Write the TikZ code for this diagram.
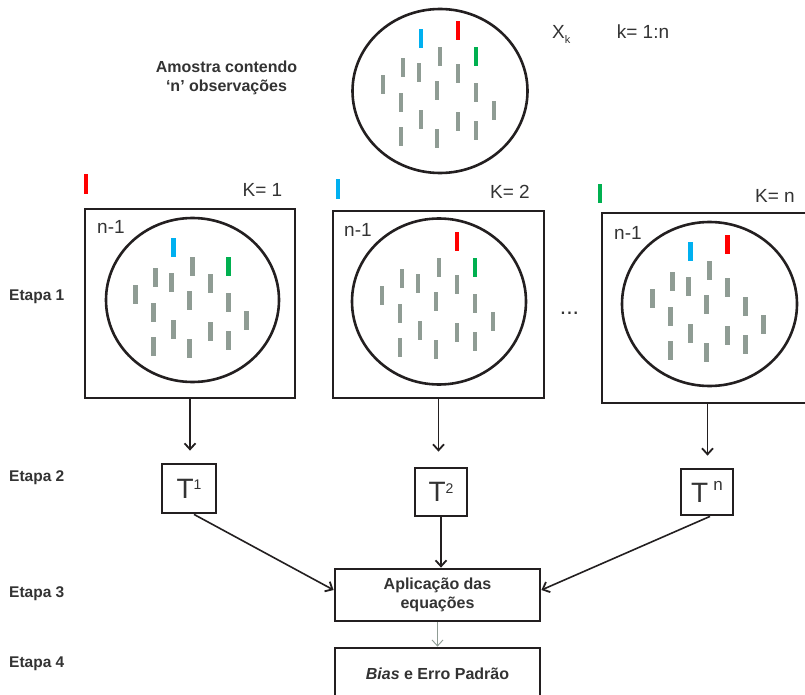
\documentclass[tikz,border=0pt]{standalone}
\usepackage{fontspec}
\setmainfont{Liberation Sans}
\usetikzlibrary{arrows.meta}
\definecolor{tk}{HTML}{8F9C94}
\definecolor{lc}{HTML}{231F20}
\definecolor{tb}{HTML}{00B0F0}
\definecolor{tr}{HTML}{FF0000}
\definecolor{tg}{HTML}{00B050}
\definecolor{txt}{HTML}{333333}
\newcommand\mytick[3]{\fill[#3] (#1-2.3,#2-9.5) rectangle (#1+2.3,#2+9.5);}
\newcommand\graypattern{%
  \foreach \dx/\dy in {0/-34,-37/-23,-21/-18,18/-17,-57/-6,-3/0,36/2,-39/12,54/20,-19/29,18/31,36/40,-39/46,-3/48}{%
    \fill[tk] (\dx-2.3,\dy-9.5) rectangle (\dx+2.3,\dy+9.5);}}
\begin{document}
\begin{tikzpicture}[x=1pt,y=-1pt,
  frame/.style={draw=lc, line width=2.8pt, rectangle, inner sep=0pt, text=txt},
  circ/.style={draw=lc, line width=2.6pt},
  arr/.style={draw=lc, line width=1.6pt, -{Straight Barb[length=6pt,width=11pt,line width=1.8pt]}},
  garr/.style={draw=tk, line width=0.9pt, -{Straight Barb[length=6pt,width=11pt]}},
  lbl/.style={font=\fontsize{16}{19}\selectfont\bfseries, text=txt, align=center, inner sep=0pt},
  elbl/.style={font=\fontsize{15.5}{18}\selectfont\bfseries, text=txt, inner sep=0pt},
  reg/.style={font=\fontsize{19}{21}\selectfont, text=txt, inner sep=0pt},
]
\useasboundingbox (0,0) rectangle (805,695);
\fill[white] (0,0) rectangle (805,695);

% top sample
\draw[circ] (440,91) ellipse [x radius=87.5, y radius=82];
\begin{scope}[shift={(440,91)}]
  \graypattern
  \mytick{-19}{-52.5}{tb}
  \mytick{18}{-60}{tr}
  \mytick{36}{-34}{tg}
\end{scope}
\node[lbl] (amostra) at (226.5,78) {Amostra contendo\\`n' observações};
\node[reg, anchor=base west] (xk) at (552,39) {X\raisebox{-5pt}{\fontsize{11}{11}\selectfont k}};
\node[reg, anchor=base] (kn) at (643,39) {k= 1:n};

% boxes
\node[frame, minimum width=210, minimum height=189] (b1) at (190,303.5) {};
\node[frame, minimum width=211, minimum height=187] (b2) at (438.5,304.5) {};
\node[frame, minimum width=211, minimum height=190] (b3) at (707.5,308) {};

\draw[circ] (192.5,300) ellipse [x radius=86.5, y radius=82];
\begin{scope}[shift={(192.5,300)}]
  \graypattern
  \mytick{-19}{-52.5}{tb}
  \mytick{36}{-34}{tg}
\end{scope}
\draw[circ] (439,301.5) ellipse [x radius=87, y radius=83];
\begin{scope}[shift={(439,301.5)}]
  \graypattern
  \mytick{18}{-60}{tr}
  \mytick{36}{-34}{tg}
\end{scope}
\draw[circ] (709.5,304) ellipse [x radius=87.5, y radius=82];
\begin{scope}[shift={(709.5,304)}]
  \graypattern
  \mytick{-19}{-52.5}{tb}
  \mytick{18}{-60}{tr}
\end{scope}

\mytick{86}{184}{tr}
\mytick{338}{189}{tb}
\mytick{600}{193.5}{tg}

\node[reg] (k1) at (262.5,190) {K= 1};
\node[reg] (k2) at (510,192) {K= 2};
\node[reg] (k3) at (775,196) {K= n};
\node[reg, anchor=west] (n1) at (97,227) {n-1};
\node[reg, anchor=west] (n2) at (344,230) {n-1};
\node[reg, anchor=west] (n3) at (614,233) {n-1};
\node[font=\fontsize{23}{23}\selectfont, text=txt, inner sep=0pt] (dots) at (569.5,313) {...};

% Etapa labels
\node[elbl, anchor=west] (e1) at (9,297) {Etapa 1};
\node[elbl, anchor=west] (e2) at (9,478) {Etapa 2};
\node[elbl, anchor=west] (e3) at (9,594) {Etapa 3};
\node[elbl, anchor=west] (e4) at (9,664) {Etapa 4};

% T boxes
\node[frame, minimum width=54, minimum height=49] (t1) at (189,488.5)
  {\fontsize{28}{28}\selectfont T\raisebox{9pt}{\fontsize{14}{14}\selectfont 1}};
\node[frame, minimum width=52, minimum height=48] (t2) at (441,492)
  {\fontsize{28}{28}\selectfont T\raisebox{8pt}{\fontsize{14}{14}\selectfont 2}};
\node[frame, minimum width=52, minimum height=46] (tn) at (707,492)
  {\fontsize{28}{28}\selectfont T\hspace{5pt}\raisebox{12pt}{\fontsize{17}{17}\selectfont n}};

% bottom boxes
\node[frame, lbl, minimum width=205, minimum height=52] (ap) at (437.5,595)
  {Aplicação das\\equações};
\node[frame, lbl, minimum width=205, minimum height=52] (bias) at (437.5,674)
  {\textit{Bias} e Erro Padrão};

% connectors
\draw[arr, shorten >=12pt] (b1.south) -- (b1.south |- t1.north);
\draw[arr, shorten >=15pt] (b2.south) -- (b2.south |- t2.north);
\draw[arr, shorten >=12pt] (b3.south) -- (b3.south |- tn.north);
\draw[arr] ([xshift=5pt]t1.south) -- ([yshift=5pt]ap.west);
\draw[arr] (t2.south) -- (t2.south |- ap.north);
\draw[arr] ([xshift=3pt]tn.south) -- ([yshift=5pt]ap.east);
\draw[garr] (ap.south) -- (bias.north);
\end{tikzpicture}
\end{document}
